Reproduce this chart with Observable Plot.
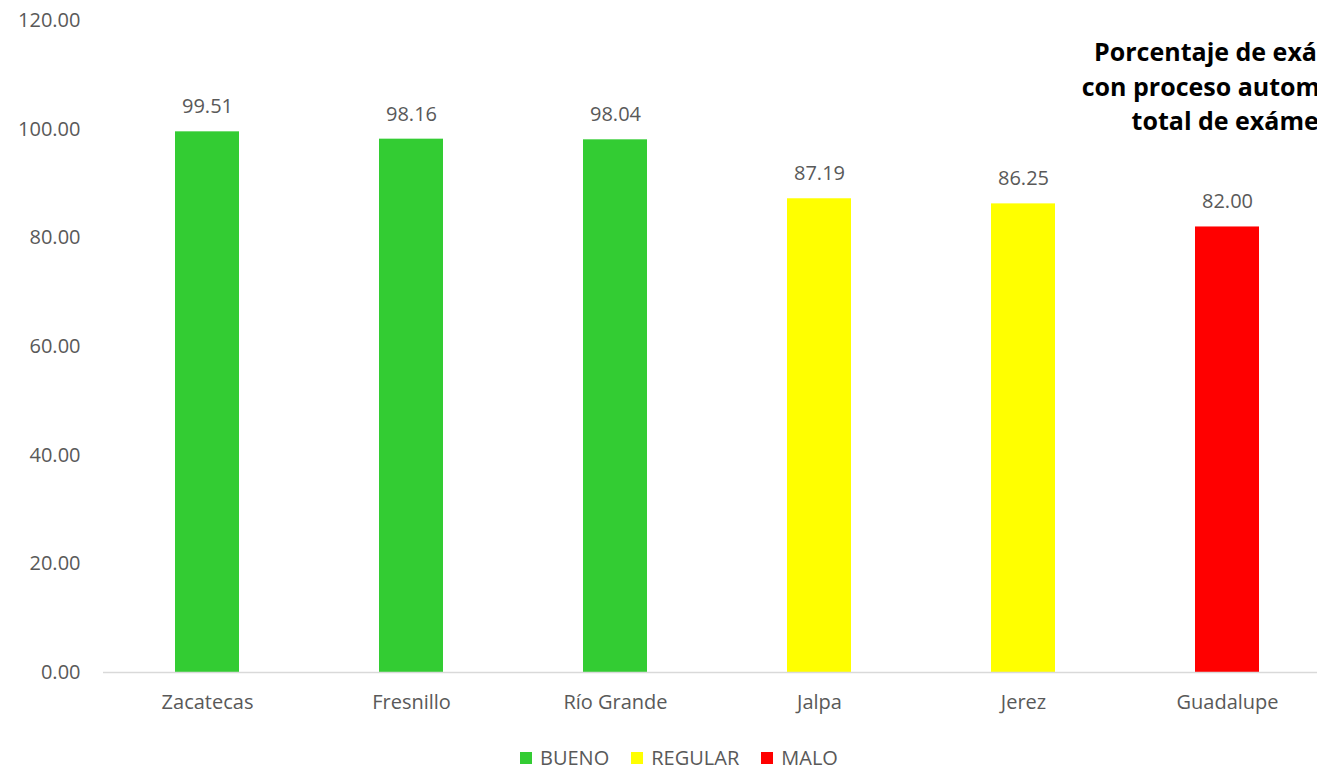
<!DOCTYPE html>
<html>
<head>
<meta charset="utf-8">
<script src="https://cdn.jsdelivr.net/npm/d3@7"></script>
<script src="https://cdn.jsdelivr.net/npm/@observablehq/plot@0.6"></script>
<style>
  html, body { margin: 0; padding: 0; background: #fff; overflow: hidden; width: 1317px; height: 768px; }
  #wrap { position: relative; width: 1317px; height: 768px; overflow: hidden; font-family: "Open Sans", sans-serif; }
  #chart { position: absolute; left: 0; top: 0; width: 1331px; }
  #chart svg { max-width: none !important; }
  #title { position: absolute; left: 1047px; top: 34px; width: 400px; text-align: center; white-space: nowrap;
           font-weight: bold; font-size: 25px; line-height: 34.5px; color: #000; }
  #legend { position: absolute; left: 520px; top: 744px; display: flex; align-items: center; gap: 22px;
            font-size: 20px; color: #595959; }
  .item { display: flex; align-items: center; gap: 8px; }
  .sw { width: 12px; height: 12px; display: inline-block; }
</style>
</head>
<body>
<div id="wrap">
  <div id="chart"></div>
  <div id="title"></div>
  <div id="legend"></div>
</div>
<script>
const categories = ["Zacatecas", "Fresnillo", "Río Grande", "Jalpa", "Jerez", "Guadalupe"];
const values = [99.51, 98.16, 98.04, 87.19, 86.25, 82.00];
const ratings = ["BUENO", "BUENO", "BUENO", "REGULAR", "REGULAR", "MALO"];
const ratingLabels = ["BUENO", "REGULAR", "MALO"];
const ratingColors = ["#33cc33", "#ffff00", "#ff0000"];
const yTicks = [0, 20, 40, 60, 80, 100, 120];
const titleLines = ["Porcentaje de exámenes", "con proceso automatizado", "total de exámenes"];

const data = categories.map((c, i) => ({category: c, value: values[i], rating: ratings[i]}));

const chart = Plot.plot({
  width: 1331,
  height: 735,
  marginLeft: 103,
  marginRight: 0,
  marginTop: 20,
  marginBottom: 63,
  style: {fontFamily: "Open Sans, sans-serif", fontSize: "20px", color: "#595959", background: "transparent", maxWidth: "none"},
  x: {type: "band", domain: categories, paddingInner: 0.687, paddingOuter: 0.3435, label: null},
  y: {domain: [0, 120], label: null},
  color: {domain: ratingLabels, range: ratingColors},
  marks: [
    Plot.barY(data, {x: "category", y: "value", fill: "rating"}),
    Plot.ruleY([0], {stroke: "#d9d9d9", strokeWidth: 1.5}),
    Plot.text(data, {x: "category", y: "value", text: d => d.value.toFixed(2), dy: -25, fill: "#595959", fontSize: 20}),
    Plot.axisX({tickSize: 0, tickPadding: 22, fontSize: 20, label: null}),
    Plot.axisY({ticks: yTicks, tickFormat: d3.format(".2f"), tickSize: 0, tickPadding: 23, fontSize: 20, label: null})
  ]
});
document.getElementById("chart").appendChild(chart);

const title = document.getElementById("title");
titleLines.forEach(t => { const d = document.createElement("div"); d.textContent = t; title.appendChild(d); });

const legend = document.getElementById("legend");
ratingLabels.forEach((r, i) => {
  const item = document.createElement("div");
  item.className = "item";
  const sw = document.createElement("span");
  sw.className = "sw";
  sw.style.background = ratingColors[i];
  const tx = document.createElement("span");
  tx.textContent = r;
  item.appendChild(sw); item.appendChild(tx);
  legend.appendChild(item);
});
</script>
</body>
</html>
